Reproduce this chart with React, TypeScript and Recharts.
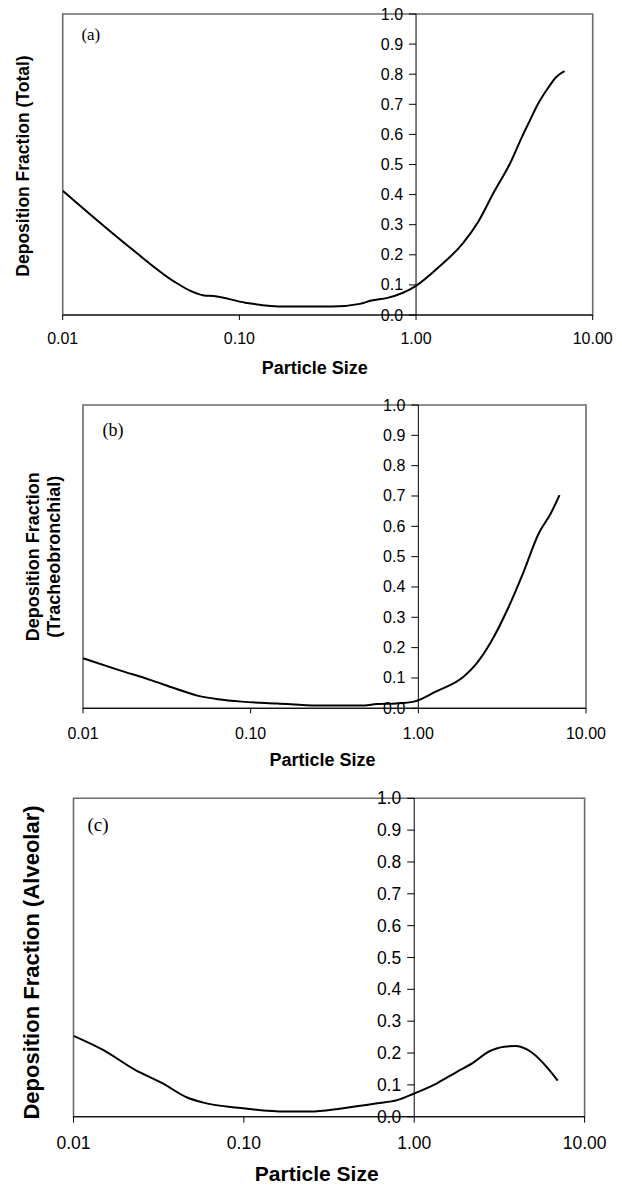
import React from "react";
import { ComposedChart, Line, XAxis, YAxis, ReferenceLine, ReferenceDot, ReferenceArea } from "recharts";

const xTicks = [0.01, 0.1, 1, 10];
const yTicks = [0, 0.1, 0.2, 0.3, 0.4, 0.5, 0.6, 0.7, 0.8, 0.9, 1.0];

const sizesA = [0.01, 0.0243, 0.0428, 0.0525, 0.063, 0.0715, 0.108, 0.181, 0.336, 0.48, 0.56, 0.69, 1.0, 1.35, 1.84, 2.25, 2.77, 3.41, 3.98, 4.4, 4.89, 5.6, 6.2, 6.93];
const fracA = [0.413, 0.222, 0.111, 0.081, 0.065, 0.063, 0.041, 0.028, 0.028, 0.037, 0.048, 0.057, 0.097, 0.16, 0.238, 0.31, 0.41, 0.504, 0.592, 0.645, 0.7, 0.755, 0.79, 0.81];

const sizesB = [0.01, 0.0164, 0.0254, 0.0352, 0.0487, 0.0638, 0.0885, 0.144, 0.249, 0.478, 0.563, 0.738, 0.942, 1.27, 1.86, 2.19, 2.72, 3.39, 4.21, 5.23, 6.17, 6.95];
const fracB = [0.165, 0.126, 0.093, 0.066, 0.041, 0.03, 0.022, 0.016, 0.009, 0.009, 0.014, 0.016, 0.022, 0.055, 0.104, 0.143, 0.22, 0.324, 0.445, 0.577, 0.643, 0.703];

const sizesC = [0.01, 0.015, 0.023, 0.0334, 0.0461, 0.0571, 0.0927, 0.177, 0.244, 0.374, 0.607, 0.794, 1.0, 1.36, 1.78, 2.2, 2.73, 3.38, 3.97, 4.92, 6.09, 6.96];
const fracC = [0.254, 0.209, 0.147, 0.105, 0.061, 0.045, 0.028, 0.016, 0.016, 0.026, 0.042, 0.052, 0.073, 0.105, 0.141, 0.168, 0.204, 0.22, 0.222, 0.201, 0.152, 0.113];

const FONT = "Arial, 'Liberation Sans', Helvetica, sans-serif";
const SERIF = "'Times New Roman', 'Liberation Serif', 'DejaVu Serif', serif";

type PanelProps = {
  sizes: number[];
  fracs: number[];
  top: number;
  height: number;
  margin: { top: number; left: number; right: number; bottom: number };
  tickFont: number;
  tickMargin: number;
  tickSize: number;
};

function Panel({ sizes, fracs, top, height, margin, tickFont, tickMargin, tickSize }: PanelProps) {
  const data = sizes.map((x, i) => ({ x, y: fracs[i] }));
  return (
    <div style={{ position: "absolute", left: 0, top, width: 622, height }}>
      <ComposedChart width={622} height={height} data={data} margin={margin}>
        <XAxis
          dataKey="x"
          type="number"
          scale="log"
          domain={[0.01, 10]}
          ticks={xTicks}
          allowDataOverflow
          tickFormatter={(v: number) => v.toFixed(2)}
          axisLine={{ stroke: "#000", strokeWidth: 1 }}
          tickLine={{ stroke: "#000" }}
          tickSize={tickSize}
          tickMargin={tickMargin}
          height={30}
          tick={{ fill: "#000", fontSize: tickFont, fontFamily: FONT }}
          interval={0}
        />
        <YAxis hide type="number" domain={[0, 1]} ticks={yTicks} />
        <ReferenceArea x1={0.01} x2={10} y1={0} y2={1} fill="none" stroke="#6a6a6a" strokeWidth={1.6} ifOverflow="visible" />
        <ReferenceLine x={1} stroke="#000" strokeWidth={1} ifOverflow="visible" />
        {yTicks.map((v) => (
          <ReferenceDot
            key={v}
            x={1}
            y={v}
            r={0}
            ifOverflow="visible"
            shape={(p: any) => (
              <g>
                <line x1={p.cx - 7} x2={p.cx} y1={p.cy} y2={p.cy} stroke="#000" strokeWidth={1} />
                <text
                  x={p.cx - 13}
                  y={p.cy}
                  textAnchor="end"
                  dominantBaseline="central"
                  fontSize={tickFont}
                  fontFamily={FONT}
                  fill="#000"
                >
                  {v.toFixed(1)}
                </text>
              </g>
            )}
          />
        ))}
        <Line
          type="monotone"
          dataKey="y"
          stroke="#000"
          strokeWidth={2}
          dot={false}
          isAnimationActive={false}
        />
      </ComposedChart>
    </div>
  );
}

export default function App() {
  return (
    <div style={{ position: "absolute", left: 0, top: 0, width: 622, height: 1185, background: "#fff" }}>
      <Panel
        sizes={sizesA}
        fracs={fracA}
        top={0}
        height={380}
        margin={{ top: 14, left: 62.7, right: 29.3, bottom: 35 }}
        tickFont={16}
        tickMargin={13}
        tickSize={5}
      />
      <Panel
        sizes={sizesB}
        fracs={fracB}
        top={380}
        height={400}
        margin={{ top: 25, left: 83, right: 36, bottom: 41.7 }}
        tickFont={16}
        tickMargin={14}
        tickSize={5}
      />
      <Panel
        sizes={sizesC}
        fracs={fracC}
        top={780}
        height={405}
        margin={{ top: 18.3, left: 73.5, right: 37.4, bottom: 38.3 }}
        tickFont={17.5}
        tickMargin={14}
        tickSize={6}
      />
      <svg width={622} height={1185} style={{ position: "absolute", left: 0, top: 0, pointerEvents: "none" }}>
        <g fontFamily={FONT} fontWeight="bold" fill="#000">
          <text x={23.3} y={166} fontSize={17.5} textAnchor="middle" dominantBaseline="central" transform="rotate(-90 23.3 166)">
            Deposition Fraction (Total)
          </text>
          <text x={314.8} y={368} fontSize={18} textAnchor="middle" dominantBaseline="central">
            Particle Size
          </text>
          <text x={32.8} y={556.7} fontSize={18} textAnchor="middle" dominantBaseline="central" transform="rotate(-90 32.8 556.7)">
            Deposition Fraction
          </text>
          <text x={53.6} y={556.7} fontSize={18} textAnchor="middle" dominantBaseline="central" transform="rotate(-90 53.6 556.7)">
            (Tracheobronchial)
          </text>
          <text x={322.6} y={760} fontSize={18} textAnchor="middle" dominantBaseline="central">
            Particle Size
          </text>
          <text x={31} y={962.5} fontSize={22} textAnchor="middle" dominantBaseline="central" transform="rotate(-90 31 962.5)">
            Deposition Fraction (Alveolar)
          </text>
          <text x={316.7} y={1173} fontSize={21} textAnchor="middle" dominantBaseline="central">
            Particle Size
          </text>
        </g>
        <g fontFamily={SERIF} fill="#000">
          <text x={81.4} y={34} fontSize={17} dominantBaseline="central">(a)</text>
          <text x={102.5} y={429.5} fontSize={18} dominantBaseline="central">(b)</text>
          <text x={87.4} y={824} fontSize={19} dominantBaseline="central">(c)</text>
        </g>
      </svg>
    </div>
  );
}
